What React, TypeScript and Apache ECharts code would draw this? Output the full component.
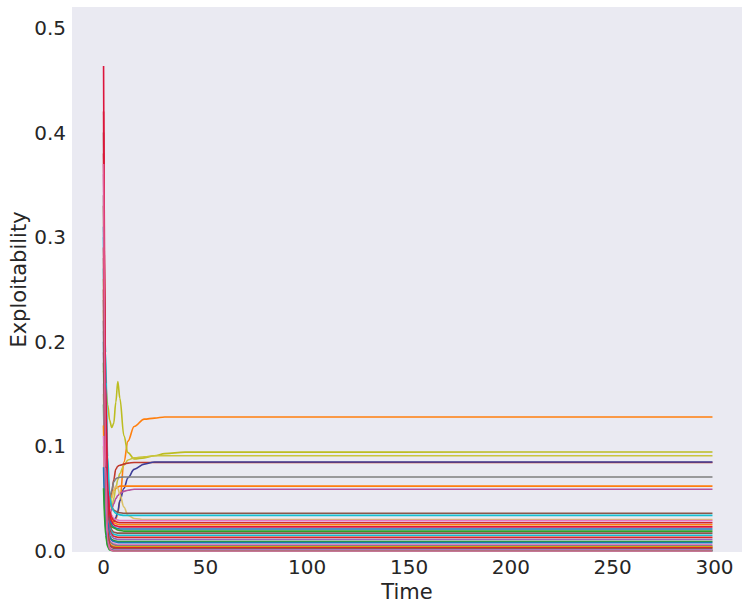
import React, { useEffect, useRef } from "react";
import * as echarts from "echarts";

// time sample points (x)
const times = [0, 1, 2, 3, 4, 5, 6, 7, 8, 10, 12, 15, 20, 25, 30, 40, 299];

const xTicks = [0, 50, 100, 150, 200, 250, 300];
const yTicks = [0, 0.1, 0.2, 0.3, 0.4, 0.5];

// exploitability values per run, sampled at `times`
const runColors = [
  "#ff7f0e", "#bcbd22", "#c9c43c", "#c0392b", "#3d3d99", "#7f7f7f", "#ff7f0e", "#b5539e",
  "#dbc26a", "#8c564b", "#17becf", "#e377c2", "#d62728", "#ff7f0e", "#1f77b4", "#2ca02c",
  "#8c564b", "#17becf", "#d62728", "#9467bd", "#2ca02c", "#1f77b4", "#e377c2", "#7f7f7f",
  "#ff7f0e", "#bcbd22", "#d62728", "#8c564b", "#e377c2", "#1f77b4", "#2ca02c", "#dc143c",
  "#e0609a",
];

const runValues = [
  [0.250, 0.120, 0.060, 0.038, 0.030, 0.028, 0.030, 0.036, 0.048, 0.085, 0.105, 0.119, 0.126, 0.127, 0.128, 0.128, 0.128],
  [0.172, 0.160, 0.140, 0.125, 0.118, 0.122, 0.142, 0.162, 0.146, 0.110, 0.094, 0.088, 0.089, 0.091, 0.093, 0.0945, 0.0946],
  [0.150, 0.070, 0.040, 0.035, 0.040, 0.050, 0.060, 0.068, 0.074, 0.082, 0.087, 0.089, 0.090, 0.091, 0.091, 0.091, 0.091],
  [0.330, 0.120, 0.060, 0.050, 0.055, 0.068, 0.078, 0.081, 0.082, 0.083, 0.084, 0.0845, 0.0845, 0.0845, 0.0845, 0.0845, 0.0845],
  [0.220, 0.090, 0.040, 0.028, 0.026, 0.028, 0.032, 0.038, 0.048, 0.060, 0.070, 0.078, 0.083, 0.085, 0.085, 0.085, 0.085],
  [0.280, 0.110, 0.060, 0.050, 0.058, 0.066, 0.069, 0.070, 0.0705, 0.0707, 0.0707, 0.0707, 0.0707, 0.0707, 0.0707, 0.0707, 0.0707],
  [0.260, 0.100, 0.050, 0.045, 0.052, 0.058, 0.060, 0.061, 0.062, 0.062, 0.062, 0.062, 0.062, 0.062, 0.062, 0.062, 0.062],
  [0.190, 0.080, 0.040, 0.035, 0.040, 0.045, 0.050, 0.053, 0.055, 0.057, 0.058, 0.059, 0.059, 0.059, 0.059, 0.059, 0.059],
  [0.120, 0.050, 0.035, 0.040, 0.050, 0.058, 0.062, 0.060, 0.054, 0.042, 0.034, 0.031, 0.030, 0.030, 0.030, 0.030, 0.030],
  [0.400, 0.150, 0.075, 0.050, 0.042, 0.039, 0.038, 0.037, 0.0365, 0.036, 0.036, 0.036, 0.036, 0.036, 0.036, 0.036, 0.036],
  [0.300, 0.190, 0.090, 0.052, 0.042, 0.038, 0.036, 0.035, 0.0345, 0.034, 0.034, 0.034, 0.034, 0.034, 0.034, 0.034, 0.034],
  [0.360, 0.130, 0.060, 0.040, 0.034, 0.031, 0.030, 0.0295, 0.029, 0.029, 0.029, 0.029, 0.029, 0.029, 0.029, 0.029, 0.029],
  [0.380, 0.140, 0.058, 0.038, 0.032, 0.029, 0.028, 0.0275, 0.027, 0.027, 0.027, 0.027, 0.027, 0.027, 0.027, 0.027, 0.027],
  [0.230, 0.090, 0.045, 0.034, 0.029, 0.027, 0.026, 0.0255, 0.025, 0.025, 0.025, 0.025, 0.025, 0.025, 0.025, 0.025, 0.025],
  [0.200, 0.080, 0.040, 0.030, 0.025, 0.023, 0.022, 0.0215, 0.021, 0.021, 0.021, 0.021, 0.021, 0.021, 0.021, 0.021, 0.021],
  [0.180, 0.070, 0.035, 0.026, 0.023, 0.022, 0.021, 0.020, 0.0195, 0.019, 0.019, 0.019, 0.019, 0.019, 0.019, 0.019, 0.019],
  [0.340, 0.110, 0.045, 0.026, 0.020, 0.018, 0.0175, 0.017, 0.017, 0.017, 0.017, 0.017, 0.017, 0.017, 0.017, 0.017, 0.017],
  [0.270, 0.090, 0.035, 0.022, 0.018, 0.016, 0.0155, 0.015, 0.015, 0.015, 0.015, 0.015, 0.015, 0.015, 0.015, 0.015, 0.015],
  [0.420, 0.120, 0.040, 0.020, 0.016, 0.014, 0.0135, 0.013, 0.013, 0.013, 0.013, 0.013, 0.013, 0.013, 0.013, 0.013, 0.013],
  [0.250, 0.080, 0.030, 0.018, 0.014, 0.012, 0.0115, 0.011, 0.011, 0.011, 0.011, 0.011, 0.011, 0.011, 0.011, 0.011, 0.011],
  [0.140, 0.050, 0.022, 0.014, 0.011, 0.010, 0.0095, 0.009, 0.009, 0.009, 0.009, 0.009, 0.009, 0.009, 0.009, 0.009, 0.009],
  [0.310, 0.090, 0.028, 0.013, 0.010, 0.009, 0.0085, 0.008, 0.008, 0.008, 0.008, 0.008, 0.008, 0.008, 0.008, 0.008, 0.008],
  [0.160, 0.050, 0.018, 0.010, 0.008, 0.007, 0.0065, 0.006, 0.006, 0.006, 0.006, 0.006, 0.006, 0.006, 0.006, 0.006, 0.006],
  [0.210, 0.060, 0.020, 0.009, 0.007, 0.006, 0.0055, 0.005, 0.005, 0.005, 0.005, 0.005, 0.005, 0.005, 0.005, 0.005, 0.005],
  [0.120, 0.040, 0.014, 0.007, 0.005, 0.0045, 0.004, 0.004, 0.004, 0.004, 0.004, 0.004, 0.004, 0.004, 0.004, 0.004, 0.004],
  [0.100, 0.035, 0.012, 0.006, 0.0045, 0.004, 0.0035, 0.0035, 0.0035, 0.0035, 0.0035, 0.0035, 0.0035, 0.0035, 0.0035, 0.0035, 0.0035],
  [0.290, 0.070, 0.018, 0.006, 0.004, 0.0035, 0.003, 0.003, 0.003, 0.003, 0.003, 0.003, 0.003, 0.003, 0.003, 0.003, 0.003],
  [0.240, 0.060, 0.014, 0.005, 0.003, 0.0025, 0.002, 0.002, 0.002, 0.002, 0.002, 0.002, 0.002, 0.002, 0.002, 0.002, 0.002],
  [0.110, 0.030, 0.008, 0.003, 0.0015, 0.001, 0.001, 0.001, 0.001, 0.001, 0.001, 0.001, 0.001, 0.001, 0.001, 0.001, 0.001],
  [0.080, 0.020, 0.005, 0.0015, 0.0008, 0.0005, 0.0005, 0.0005, 0.0005, 0.0005, 0.0005, 0.0005, 0.0005, 0.0005, 0.0005, 0.0005, 0.0005],
  [0.060, 0.015, 0.004, 0.001, 0.0004, 0.0002, 0.0002, 0.0002, 0.0002, 0.0002, 0.0002, 0.0002, 0.0002, 0.0002, 0.0002, 0.0002, 0.0002],
  [0.4636, 0.160, 0.060, 0.035, 0.028, 0.025, 0.024, 0.0235, 0.023, 0.023, 0.023, 0.023, 0.023, 0.023, 0.023, 0.023, 0.023],
  [0.370, 0.080, 0.010, 0.002, 0.0005, 0.0, 0.0, 0.0, 0.0, 0.0, 0.0, 0.0, 0.0, 0.0, 0.0, 0.0, 0.0],
];

const FONT = "DejaVu Sans";
const TEXT = "#262626";

export default function App() {
  const ref = useRef<HTMLDivElement>(null);
  useEffect(() => {
    if (!ref.current) return;
    const chart = echarts.init(ref.current, undefined, { renderer: "svg" });
    const series = runValues.map((vals, i) => ({
      type: "line",
      data: vals.map((v, j) => [times[j], v]),
      showSymbol: false,
      smooth: 0.35,
      smoothMonotone: "x",
      lineStyle: { width: 1.6, color: runColors[i] },
      itemStyle: { color: runColors[i] },
      z: 2,
    }));
    chart.setOption({
      animation: false,
      backgroundColor: "#ffffff",
      grid: {
        left: 72,
        right: 8,
        top: 7,
        bottom: 57,
        show: true,
        backgroundColor: "#EAEAF2",
        borderWidth: 0,
        outerBoundsMode: "none",
        containLabel: false,
      },
      xAxis: {
        type: "value",
        min: -15.5,
        max: 313.5,
        name: "Time",
        nameLocation: "middle",
        nameGap: 29,
        nameMoveOverlap: false,
        nameTextStyle: { fontFamily: FONT, fontSize: 21, color: TEXT },
        axisLine: { show: false },
        axisTick: { show: false },
        splitLine: { show: false },
        axisLabel: {
          customValues: xTicks,
          formatter: (v: number) => String(Math.round(v)),
          fontFamily: FONT,
          fontSize: 20,
          color: TEXT,
          margin: 5,
        },
      },
      yAxis: {
        type: "value",
        min: -0.001,
        max: 0.52,
        name: "Exploitability",
        nameLocation: "middle",
        nameGap: 43,
        nameMoveOverlap: false,
        nameTextStyle: { fontFamily: FONT, fontSize: 21, color: TEXT },
        axisLine: { show: false },
        axisTick: { show: false },
        splitLine: { show: false },
        axisLabel: {
          customValues: yTicks,
          formatter: (v: number) => v.toFixed(1),
          fontFamily: FONT,
          fontSize: 20,
          color: TEXT,
          margin: 6,
        },
      },
      series,
    });
    return () => chart.dispose();
  }, []);
  return <div ref={ref} style={{ width: 750, height: 609, position: "absolute", left: 0, top: 0 }} />;
}
